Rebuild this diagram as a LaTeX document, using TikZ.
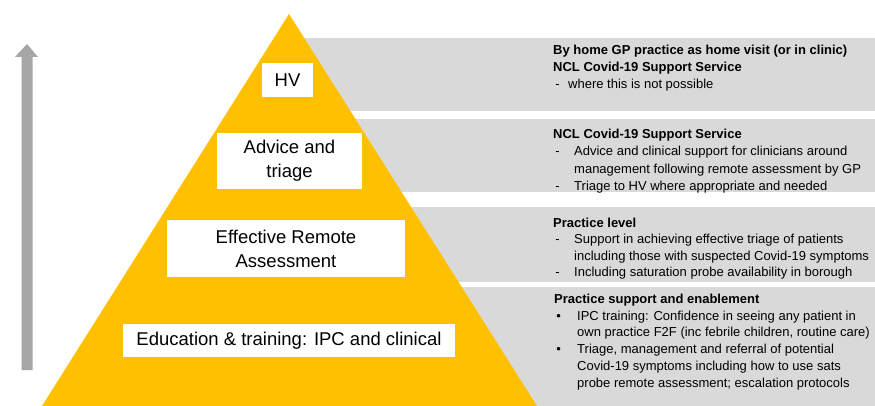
\documentclass[tikz,border=0pt]{standalone}
\usepackage{fontspec}
\setmainfont{Liberation Sans}
\definecolor{pyr}{HTML}{FFC000}
\definecolor{band}{HTML}{D9D9D9}
\definecolor{arrowgray}{HTML}{A6A6A6}
\tikzset{
  bandrect/.style={fill=band, draw=none},
  label/.style={fill=white, draw=none, align=center, inner sep=0pt,
    font=\fontsize{18.5}{24}\selectfont},
  bandtext/.style={anchor=base west, align=left, inner sep=0pt,
    font=\fontsize{13}{17}\selectfont}
}
\begin{document}
\begin{tikzpicture}[x=1pt,y=-1pt]
\useasboundingbox (0,0) rectangle (875,406);
% grey bands
\fill[bandrect] (280,38) rectangle (875,111);
\fill[bandrect] (280,119) rectangle (875,192);
\fill[bandrect] (280,207) rectangle (875,282);
\fill[bandrect] (280,287) rectangle (875,406);
% pyramid
\fill[pyr] (289,14) -- (537,406) -- (42,406) -- cycle;
% arrow
\fill[arrowgray] (21.5,370) -- (21.5,57) -- (15,57) -- (27,44) -- (38,57) -- (32.5,57) -- (32.5,370) -- cycle;
% pyramid labels
\node[label, minimum width=51pt, minimum height=34pt] (hv) at (287.5,80) {HV};
\node[label, minimum width=145pt, minimum height=56pt] (adv) at (289.5,161) {Advice and\\triage};
\node[label, minimum width=238pt, minimum height=57pt] (era) at (286,248.5) {Effective Remote\\Assessment};
\node[label, minimum width=332pt, minimum height=33pt] (edu) at (289,340.5) {Education \& training: IPC and clinical};
% band texts (anchored at the baseline of their last line)
\node[bandtext] (t1) at (553,88.7) {\textbf{By home GP practice as home visit (or in clinic)}\\
\textbf{NCL Covid-19 Support Service}\\
\makebox[15pt][l]{\,-}where this is not possible};
\node[bandtext, font=\fontsize{13}{17.3}\selectfont] (t2) at (553,190.4) {\textbf{NCL Covid-19 Support Service}\\
\makebox[21pt][l]{\,-}Advice and clinical support for clinicians around\\
\makebox[21pt][l]{}management following remote assessment by GP\\
\makebox[21pt][l]{\,-}Triage to HV where appropriate and needed};
\node[bandtext, font=\fontsize{13}{16.3}\selectfont] (t3) at (553,276.4) {\textbf{Practice level}\\
\makebox[21pt][l]{\,-}Support in achieving effective triage of patients\\
\makebox[21pt][l]{}including those with suspected Covid-19 symptoms\\
\makebox[21pt][l]{\,-}Including saturation probe availability in borough};
\node[bandtext, font=\fontsize{13}{16.7}\selectfont] (t4) at (554,387.0) {\textbf{Practice support and enablement}\\
\makebox[23pt][l]{\,\textbullet}IPC training: Confidence in seeing any patient in\\
\makebox[23pt][l]{}own practice F2F (inc febrile children, routine care)\\
\makebox[23pt][l]{\,\textbullet}Triage, management and referral of potential\\
\makebox[23pt][l]{}Covid-19 symptoms including how to use sats\\
\makebox[23pt][l]{}probe remote assessment; escalation protocols};
\end{tikzpicture}
\end{document}
